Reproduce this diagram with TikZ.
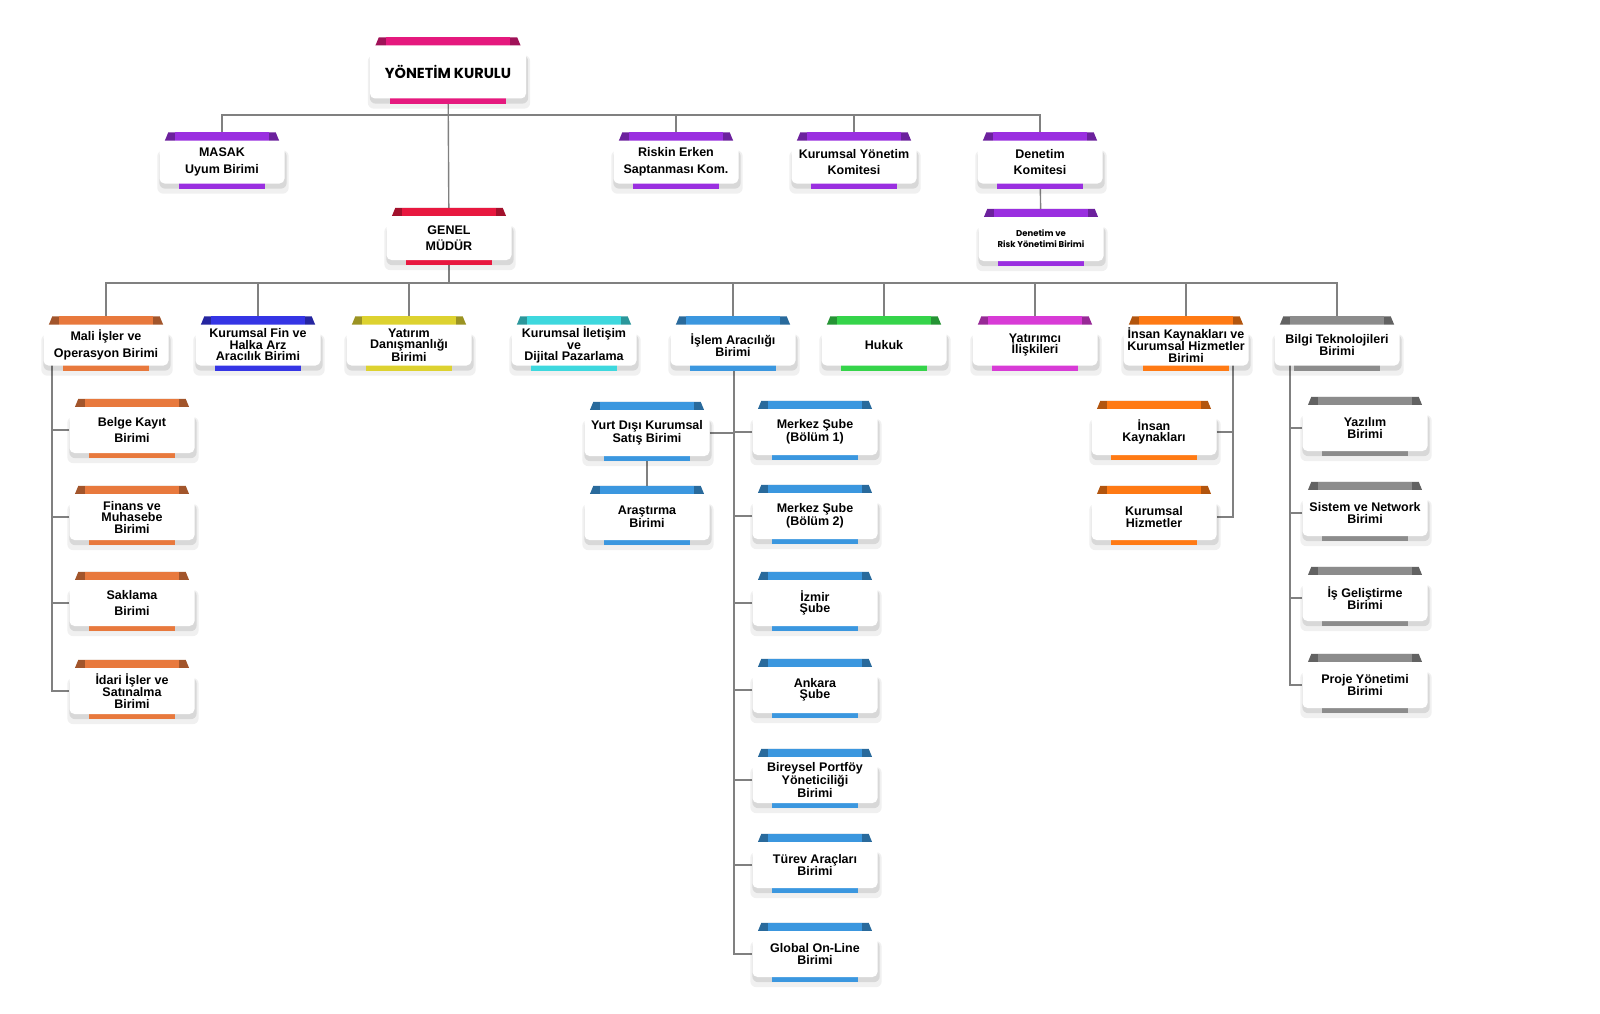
\documentclass[tikz,border=0pt]{standalone}
\usepackage{fontspec}
\setmainfont{Liberation Sans}
\newfontfamily\poppins{Poppins}
\usetikzlibrary{calc}

\pgfdeclarelayer{lines}
\pgfdeclarelayer{ribbons}
\pgfsetlayers{lines,ribbons,main}

\definecolor{ykpink}{HTML}{E5197E}
\definecolor{kurpurple}{HTML}{9A2FE0}
\definecolor{gmred}{HTML}{E8183F}
\definecolor{maliorange}{HTML}{E8793D}
\definecolor{finblue}{HTML}{3535E5}
\definecolor{yatyellow}{HTML}{DDD230}
\definecolor{ilecyan}{HTML}{3ED8DE}
\definecolor{islemblue}{HTML}{3B97DF}
\definecolor{hukgreen}{HTML}{35D44A}
\definecolor{yatmagenta}{HTML}{D83BD6}
\definecolor{ikorange}{HTML}{FF7A14}
\definecolor{bilgigray}{HTML}{8C8C8C}
\definecolor{linkgray}{HTML}{808080}

% coloured band on top, short bar below, soft shadow
\newcommand{\ribbon}[2]{%
\begin{pgfonlayer}{ribbons}
\fill[black, opacity=0.06, rounded corners=6pt] ($(#1.south west)+(-2,10)$) rectangle ($(#1.north east)+(4,10)$);
\fill[black, opacity=0.10, rounded corners=6pt] ($(#1.south west)+(0,5)$) rectangle ($(#1.north east)+(2,10)$);
\fill[#2!70!black] ($(#1.north west)+(2,9)$) -- ($(#1.north west)+(9,-8)$) -- ($(#1.north east)+(-9,-8)$) -- ($(#1.north east)+(-2,9)$) -- cycle;
\fill[#2] ($(#1.north west)+(16,-8)$) rectangle ($(#1.north east)+(-16,5)$);
\fill[#2] ($(#1.south west)+(20,-6)$) rectangle ($(#1.south east)+(-20,5)$);
\end{pgfonlayer}}

\tikzset{
  unit/.style = {fill=white, rounded corners=5pt, align=center, inner sep=2pt,
    minimum width=125pt, minimum height=44pt, font=\bfseries\fontsize{12.5}{11.5}\selectfont},
  loose/.style = {font=\bfseries\fontsize{12.5}{16.5}\selectfont},
  topunit/.style = {minimum height=43pt},
  midunit/.style = {minimum height=41pt},
  subunit/.style = {minimum height=46pt},
  link/.style = {draw=linkgray, line width=1.4pt}
}

\begin{document}
\begin{tikzpicture}[x=1pt, y=-1pt]
\useasboundingbox (0,0) rectangle (1600,1014);

% board and committees
\node[unit, minimum width=156pt, minimum height=53pt, font=\poppins\bfseries\fontsize{14.5}{16}\selectfont] (yk) at (448,72) {YÖNETİM KURULU};
\node[unit, topunit, loose] (masak) at (222,162) {MASAK\\Uyum Birimi};
\node[unit, topunit, loose] (riskin) at (676,162) {Riskin Erken\\Saptanması Kom.};
\node[unit, topunit, loose] (kyk) at (854,162) {Kurumsal Yönetim\\Komitesi};
\node[unit, topunit, loose] (denetim) at (1040,162) {Denetim\\Komitesi};
\node[unit, loose] (gm) at (449,238) {GENEL\\MÜDÜR};
\node[unit, font=\poppins\bfseries\fontsize{8.5}{11}\selectfont] (dryb) at (1041,239) {Denetim ve\\Risk Yönetimi Birimi};

% units under the general manager
\node[unit, midunit, loose] (mali) at (106,345) {Mali İşler ve\\Operasyon Birimi};
\node[unit, midunit] (kurfin) at (258,345) {Kurumsal Fin ve\\Halka Arz\\Aracılık Birimi};
\node[unit, midunit] (yatirim) at (409,345) {Yatırım\\Danışmanlığı\\Birimi};
\node[unit, midunit] (iletisim) at (574,345) {Kurumsal İletişim\\ve\\Dijital Pazarlama};
\node[unit, midunit] (islem) at (733,345) {İşlem Aracılığı\\Birimi};
\node[unit, midunit] (hukuk) at (884,345) {Hukuk};
\node[unit, midunit] (yatirimci) at (1035,345) {Yatırımcı\\İlişkileri};
\node[unit, midunit] (insan) at (1186,345) {İnsan Kaynakları ve\\Kurumsal Hizmetler\\Birimi};
\node[unit, midunit] (bilgi) at (1337,345) {Bilgi Teknolojileri\\Birimi};

% mali isler
\node[unit, subunit, loose] (belge) at (132,430) {Belge Kayıt\\Birimi};
\node[unit, subunit] (finans) at (132,517) {Finans ve\\Muhasebe\\Birimi};
\node[unit, subunit, loose] (saklama) at (132,603) {Saklama\\Birimi};
\node[unit, subunit] (idari) at (132,691) {İdari İşler ve\\Satınalma\\Birimi};

% islem araciligi
\node[unit, subunit] (yurtdisi) at (647,433) {Yurt Dışı Kurumsal\\Satış Birimi};
\node[unit, subunit] (arastirma) at (647,517) {Araştırma\\Birimi};
\node[unit, subunit] (merkez1) at (815,432) {Merkez Şube\\(Bölüm 1)};
\node[unit, subunit] (merkez2) at (815,516) {Merkez Şube\\(Bölüm 2)};
\node[unit, subunit] (izmir) at (815,603) {İzmir\\Şube};
\node[unit, subunit] (ankara) at (815,690) {Ankara\\Şube};
\node[unit, subunit] (bireysel) at (815,780) {Bireysel Portföy\\Yöneticiliği\\Birimi};
\node[unit, subunit] (turev) at (815,865) {Türev Araçları\\Birimi};
\node[unit, subunit] (global) at (815,954) {Global On-Line\\Birimi};

% insan kaynaklari
\node[unit, subunit] (ik) at (1154,432) {İnsan\\Kaynakları};
\node[unit, subunit] (hizmet) at (1154,517) {Kurumsal\\Hizmetler};

% bilgi teknolojileri
\node[unit, subunit] (yazilim) at (1365,428) {Yazılım\\Birimi};
\node[unit, subunit] (sistem) at (1365,513) {Sistem ve Network\\Birimi};
\node[unit, subunit] (isgel) at (1365,598) {İş Geliştirme\\Birimi};
\node[unit, subunit] (proje) at (1365,685) {Proje Yönetimi\\Birimi};

\foreach \n/\c in {yk/ykpink, masak/kurpurple, riskin/kurpurple, kyk/kurpurple, denetim/kurpurple,
  dryb/kurpurple, gm/gmred, mali/maliorange, kurfin/finblue, yatirim/yatyellow, iletisim/ilecyan,
  islem/islemblue, hukuk/hukgreen, yatirimci/yatmagenta, insan/ikorange, bilgi/bilgigray,
  belge/maliorange, finans/maliorange, saklama/maliorange, idari/maliorange,
  yurtdisi/islemblue, arastirma/islemblue, merkez1/islemblue, merkez2/islemblue, izmir/islemblue,
  ankara/islemblue, bireysel/islemblue, turev/islemblue, global/islemblue,
  ik/ikorange, hizmet/ikorange, yazilim/bilgigray, sistem/bilgigray, isgel/bilgigray, proje/bilgigray}
  \ribbon{\n}{\c};

\coordinate (topbus) at (448,115);
\coordinate (gmbus) at (449,283);
\coordinate (malispine) at (52,365);
\coordinate (islemspine) at (734,365);
\coordinate (insanspine) at (1233,365);
\coordinate (bilgispine) at (1290,365);

\begin{pgfonlayer}{lines}
\draw[link] (yk) -- (gm);
\draw[link] (masak.north) -- (masak.north |- topbus) -- (denetim.north |- topbus) -- (denetim.north);
\draw[link] (riskin.north) -- (riskin.north |- topbus);
\draw[link] (kyk.north) -- (kyk.north |- topbus);
\draw[link] (denetim) -- (dryb);
\draw[link] (gm) -- (gmbus);
\draw[link] (mali.north) -- (mali.north |- gmbus) -- (bilgi.north |- gmbus) -- (bilgi.north);
\foreach \n in {kurfin, yatirim, islem, hukuk, yatirimci, insan}
  \draw[link] (\n.north) -- (\n.north |- gmbus);
% spines
\draw[link] (malispine) |- (idari.west);
\foreach \n in {belge, finans, saklama}
  \draw[link] (\n.west) -- (\n.west -| malispine);
\draw[link] (islemspine) |- (global.west);
\foreach \n in {merkez1, merkez2, izmir, ankara, bireysel, turev}
  \draw[link] (\n.west) -- (\n.west -| islemspine);
\draw[link] (yurtdisi.east) -- (yurtdisi.east -| islemspine);
\draw[link] (yurtdisi) -- (arastirma);
\draw[link] (insanspine) |- (hizmet.east);
\draw[link] (ik.east) -- (ik.east -| insanspine);
\draw[link] (bilgispine) |- (proje.west);
\foreach \n in {yazilim, sistem, isgel}
  \draw[link] (\n.west) -- (\n.west -| bilgispine);
\end{pgfonlayer}
\end{tikzpicture}
\end{document}
